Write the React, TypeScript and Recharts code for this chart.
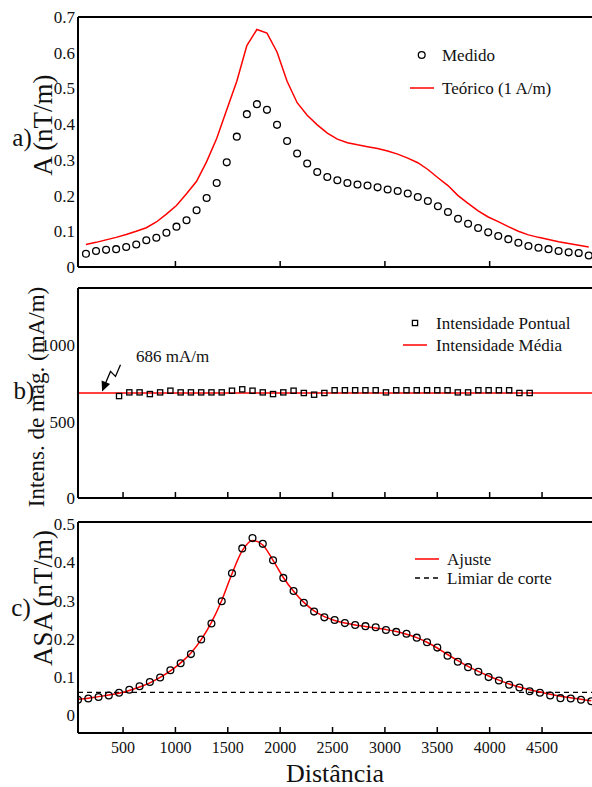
import React from 'react';
import {
  ComposedChart,
  Line,
  Scatter,
  XAxis,
  YAxis,
  ReferenceLine,
  ReferenceDot,
  Legend,
} from 'recharts';

const FONT = '"Liberation Serif", "Times New Roman", Times, serif';
const INK = '#111';
const RED = '#ff0000';

// ---------- shared x axis ----------
const xDomain = [70, 4977];
const xTicks = [500, 1000, 1500, 2000, 2500, 3000, 3500, 4000, 4500];
const xTicksA = [1000, 2000, 3000, 4000];

// ---------- panel a ----------
const distA = [146, 242, 338, 434, 530, 626, 722, 818, 914, 1010, 1106, 1202, 1298, 1394, 1490, 1586, 1682, 1778, 1874, 1970, 2066, 2162, 2258, 2354, 2450, 2546, 2642, 2738, 2834, 2930, 3026, 3122, 3218, 3314, 3410, 3506, 3602, 3698, 3794, 3890, 3986, 4082, 4178, 4274, 4370, 4466, 4562, 4658, 4754, 4850, 4946];
const medidoA = [0.037, 0.045, 0.048, 0.05, 0.056, 0.063, 0.075, 0.082, 0.096, 0.113, 0.131, 0.159, 0.193, 0.235, 0.293, 0.365, 0.428, 0.456, 0.44, 0.398, 0.353, 0.318, 0.29, 0.266, 0.252, 0.243, 0.235, 0.231, 0.228, 0.223, 0.217, 0.213, 0.206, 0.196, 0.185, 0.17, 0.154, 0.135, 0.121, 0.109, 0.097, 0.087, 0.078, 0.068, 0.059, 0.054, 0.05, 0.045, 0.041, 0.039, 0.032];
const teoricoA = [0.063, 0.069, 0.076, 0.083, 0.091, 0.1, 0.11, 0.126, 0.148, 0.172, 0.205, 0.24, 0.295, 0.36, 0.44, 0.52, 0.62, 0.665, 0.655, 0.602, 0.52, 0.46, 0.425, 0.398, 0.375, 0.358, 0.348, 0.342, 0.337, 0.332, 0.325, 0.316, 0.305, 0.292, 0.273, 0.25, 0.228, 0.2, 0.178, 0.157, 0.14, 0.127, 0.113, 0.1, 0.09, 0.083, 0.077, 0.071, 0.066, 0.061, 0.056];
const yTicksA = [0, 0.1, 0.2, 0.3, 0.4, 0.5, 0.6, 0.7];
const yTicksARight = [0.1, 0.2, 0.3, 0.4, 0.5, 0.6];

// ---------- panel b ----------
const distB = [462, 560, 658, 756, 854, 952, 1050, 1148, 1246, 1344, 1442, 1540, 1638, 1736, 1834, 1932, 2030, 2128, 2226, 2324, 2422, 2520, 2618, 2716, 2814, 2912, 3010, 3108, 3206, 3304, 3402, 3500, 3598, 3696, 3794, 3892, 3990, 4088, 4186, 4284, 4382];
const intensB = [666, 690, 690, 679, 690, 701, 690, 690, 690, 690, 690, 701, 710, 701, 690, 679, 690, 701, 686, 675, 686, 704, 704, 704, 704, 704, 690, 704, 704, 704, 704, 704, 704, 690, 690, 704, 704, 704, 704, 686, 686];
const intensMedia = 686;
const yTicksB = [0, 500, 1000];
const yTicksBRight = [500, 1000];

// ---------- panel c ----------
const distC = [70, 168, 266, 364, 462, 560, 658, 756, 854, 952, 1050, 1148, 1246, 1344, 1442, 1540, 1638, 1736, 1834, 1932, 2030, 2128, 2226, 2324, 2422, 2520, 2618, 2716, 2814, 2912, 3010, 3108, 3206, 3304, 3402, 3500, 3598, 3696, 3794, 3892, 3990, 4088, 4186, 4284, 4382, 4480, 4578, 4676, 4774, 4872, 4970];
const asaC = [0.041, 0.044, 0.048, 0.052, 0.059, 0.067, 0.076, 0.087, 0.099, 0.118, 0.136, 0.16, 0.198, 0.24, 0.298, 0.371, 0.436, 0.463, 0.448, 0.405, 0.359, 0.325, 0.294, 0.271, 0.256, 0.249, 0.241, 0.236, 0.233, 0.23, 0.223, 0.218, 0.213, 0.203, 0.191, 0.177, 0.156, 0.14, 0.126, 0.114, 0.1, 0.091, 0.08, 0.073, 0.063, 0.059, 0.052, 0.045, 0.044, 0.041, 0.037];
const ajusteC = [0.042, 0.045, 0.049, 0.053, 0.058, 0.065, 0.074, 0.085, 0.099, 0.116, 0.137, 0.163, 0.198, 0.243, 0.3, 0.37, 0.43, 0.457, 0.445, 0.405, 0.36, 0.324, 0.295, 0.273, 0.258, 0.248, 0.241, 0.236, 0.232, 0.228, 0.224, 0.219, 0.212, 0.203, 0.191, 0.176, 0.159, 0.143, 0.128, 0.115, 0.103, 0.092, 0.082, 0.074, 0.067, 0.061, 0.055, 0.05, 0.046, 0.042, 0.038];
const limiarCorte = 0.06;
const yTicksC = [0, 0.1, 0.2, 0.3, 0.4, 0.5];

const dataA = distA.map((d, i) => ({ d, med: medidoA[i], teo: teoricoA[i] }));
const dataB = distB.map((d, i) => ({ d, val: intensB[i] }));
const dataC = distC.map((d, i) => ({ d, asa: asaC[i], fit: ajusteC[i] }));

// ---------- shapes ----------
const CircleMark = (p: any) => (
  <circle cx={p.cx} cy={p.cy} r={3.4} fill="none" stroke="#000" strokeWidth={1.3} />
);
const SquareMark = (p: any) => (
  <rect x={p.cx - 2.6} y={p.cy - 2.6} width={5.2} height={5.2} fill="none" stroke="#000" strokeWidth={1.3} />
);

const makeBottomTick = (showLabel: boolean) => (p: any) => {
  const { x, y, payload } = p;
  return (
    <g>
      <line x1={x} y1={y} x2={x} y2={y - 6} stroke="#000" strokeWidth={1.5} />
      {showLabel && (
        <text x={x} y={y + 20} textAnchor="middle" fontSize={16} fontFamily={FONT} fill={INK}>
          {payload.value}
        </text>
      )}
    </g>
  );
};

const axisLineStyle = { stroke: '#000', strokeWidth: 2 };
const tickLineStyle = { stroke: '#000', strokeWidth: 1.5 };
const leftTickStyle = { fill: INK, fontSize: 17, fontFamily: FONT };

const makeTitle = (
  title: string,
  tag: string,
  tx: number,
  ty: number,
  gx: number,
  gy: number,
  size: number
) => () => (
  <g>
    <text
      x={tx}
      y={ty}
      transform={`rotate(-90, ${tx}, ${ty})`}
      textAnchor="middle"
      dominantBaseline="central"
      fontSize={size}
      fontFamily={FONT}
      fill={INK}
    >
      {title}
    </text>
    <text x={gx} y={gy} textAnchor="middle" dominantBaseline="central" fontSize={25} fontFamily={FONT} fill={INK}>
      {tag}
    </text>
  </g>
);

const ArrowNote = (p: any) => {
  const tx = p.cx;
  const ty = p.cy - 1.6;
  return (
    <g>
      <path
        d={`M ${tx + 18.4} ${ty - 26.7} L ${tx + 13.4} ${ty - 15} L ${tx + 8.4} ${ty - 20} L ${tx + 3.5} ${ty - 8.5}`}
        fill="none"
        stroke="#000"
        strokeWidth={1.3}
      />
      <path d={`M ${tx} ${ty} L ${tx - 0.5} ${ty - 11} L ${tx + 8} ${ty - 7.5} Z`} fill="#000" />
      <text x={tx + 34} y={ty - 35} dominantBaseline="central" fontSize={17} fontFamily={FONT} fill={INK}>
        686 mA/m
      </text>
    </g>
  );
};

const legendText = (x: number, y: number, s: string) => (
  <text x={x} y={y} dominantBaseline="central" fontSize={17} fontFamily={FONT} fill={INK}>
    {s}
  </text>
);

const LegendA = () => (
  <svg width={592} height={280} style={{ display: 'block' }}>
    <circle cx={421.7} cy={55} r={3.4} fill="none" stroke="#000" strokeWidth={1.3} />
    {legendText(442, 55, 'Medido')}
    <line x1={410} x2={434} y1={88} y2={88} stroke={RED} strokeWidth={1.5} />
    {legendText(442, 88, 'Teórico (1 A/m)')}
  </svg>
);

const LegendB = () => (
  <svg width={592} height={230} style={{ display: 'block' }}>
    <rect x={412.4} y={40.4} width={5.2} height={5.2} fill="none" stroke="#000" strokeWidth={1.3} />
    {legendText(436, 43, 'Intensidade Pontual')}
    <line x1={403} x2={427} y1={65} y2={65} stroke={RED} strokeWidth={1.5} />
    {legendText(436, 65, 'Intensidade Média')}
  </svg>
);

const LegendC = () => (
  <svg width={592} height={287} style={{ display: 'block' }}>
    <line x1={415} x2={439} y1={59} y2={59} stroke={RED} strokeWidth={1.5} />
    {legendText(447, 59, 'Ajuste')}
    <line x1={415} x2={439} y1={78} y2={78} stroke="#000" strokeWidth={1.3} strokeDasharray="5 4" />
    {legendText(447, 78, 'Limiar de corte')}
  </svg>
);

const topXAxis = (
  <XAxis
    xAxisId="top"
    orientation="top"
    type="number"
    domain={xDomain}
    allowDataOverflow
    ticks={xTicks}
    interval={0}
    mirror
    tick={false}
    tickSize={6}
    tickLine={tickLineStyle}
    axisLine={axisLineStyle}
  />
);

export default function App() {
  return (
    <div
      style={{
        position: 'absolute',
        left: 0,
        top: 0,
        width: 592,
        height: 787,
        background: '#fff',
        fontFamily: FONT,
      }}
    >
      {/* Panel a */}
      <div style={{ position: 'absolute', left: 0, top: 0 }}>
        <ComposedChart width={592} height={280} data={dataA} margin={{ top: 17, right: 0, bottom: 0, left: 0 }}>
          <XAxis
            dataKey="d"
            type="number"
            domain={xDomain}
            allowDataOverflow
            ticks={xTicksA}
            interval={0}
            height={13}
            tickSize={0}
            tickMargin={0}
            tickLine={false}
            axisLine={axisLineStyle}
            tick={makeBottomTick(false)}
          />
          {topXAxis}
          <YAxis
            type="number"
            domain={[0, 0.7]}
            allowDataOverflow
            ticks={yTicksA}
            interval={0}
            width={78}
            tickSize={0}
            tickMargin={3}
            tickLine={false}
            axisLine={axisLineStyle}
            tick={leftTickStyle}
            label={makeTitle('A (nT/m)', 'a)', 43, 125, 22, 137, 27)}
          />
          <YAxis
            yAxisId="right"
            orientation="right"
            mirror
            type="number"
            domain={[0, 0.7]}
            allowDataOverflow
            ticks={yTicksARight}
            interval={0}
            tick={false}
            tickSize={6}
            tickLine={tickLineStyle}
            axisLine={false}
          />
          <Line dataKey="teo" type="linear" stroke={RED} strokeWidth={1.5} dot={false} isAnimationActive={false} />
          <Scatter dataKey="med" shape={CircleMark} isAnimationActive={false} />
          <Legend
            layout="horizontal"
            verticalAlign="middle"
            align="center"
            wrapperStyle={{ left: 0, top: 0, width: 592, height: 280 }}
            content={LegendA}
          />
        </ComposedChart>
      </div>

      {/* Panel b */}
      <div style={{ position: 'absolute', left: 0, top: 280 }}>
        <ComposedChart width={592} height={230} data={dataB} margin={{ top: 8, right: 0, bottom: 0, left: 0 }}>
          <XAxis
            dataKey="d"
            type="number"
            domain={xDomain}
            allowDataOverflow
            ticks={xTicks}
            interval={0}
            height={12}
            tickSize={0}
            tickMargin={0}
            tickLine={false}
            axisLine={axisLineStyle}
            tick={makeBottomTick(false)}
          />
          {topXAxis}
          <YAxis
            type="number"
            domain={[0, 1372]}
            allowDataOverflow
            ticks={yTicksB}
            interval={0}
            width={78}
            tickSize={0}
            tickMargin={3}
            tickLine={false}
            axisLine={axisLineStyle}
            tick={leftTickStyle}
            label={makeTitle('Intens. de mag. (mA/m)', 'b)', 36, 117, 24, 110, 23)}
          />
          <YAxis
            yAxisId="right"
            orientation="right"
            mirror
            type="number"
            domain={[0, 1372]}
            allowDataOverflow
            ticks={yTicksBRight}
            interval={0}
            tick={false}
            tickSize={6}
            tickLine={tickLineStyle}
            axisLine={false}
          />
          <ReferenceLine y={intensMedia} stroke={RED} strokeWidth={1.5} />
          <Scatter dataKey="val" shape={SquareMark} isAnimationActive={false} />
          <ReferenceDot x={300} y={intensMedia} r={0} shape={ArrowNote} />
          <Legend
            layout="horizontal"
            verticalAlign="middle"
            align="center"
            wrapperStyle={{ left: 0, top: 0, width: 592, height: 230 }}
            content={LegendB}
          />
        </ComposedChart>
      </div>

      {/* Panel c */}
      <div style={{ position: 'absolute', left: 0, top: 500 }}>
        <ComposedChart width={592} height={287} data={dataC} margin={{ top: 22, right: 0, bottom: 0, left: 0 }}>
          <XAxis
            dataKey="d"
            type="number"
            domain={xDomain}
            allowDataOverflow
            ticks={xTicks}
            interval={0}
            height={54}
            tickSize={0}
            tickMargin={0}
            tickLine={false}
            axisLine={axisLineStyle}
            tick={makeBottomTick(true)}
            label={{ value: 'Distância', position: 'insideBottom', offset: 5, fontSize: 26, fill: INK, fontFamily: FONT }}
          />
          {topXAxis}
          <YAxis
            type="number"
            domain={[-0.046, 0.505]}
            allowDataOverflow
            ticks={yTicksC}
            interval={0}
            width={78}
            tickSize={0}
            tickMargin={3}
            tickLine={false}
            axisLine={axisLineStyle}
            tick={leftTickStyle}
            label={makeTitle('ASA (nT/m)', 'c)', 43, 98, 21, 107, 27)}
          />
          <YAxis
            yAxisId="right"
            orientation="right"
            mirror
            type="number"
            domain={[-0.046, 0.505]}
            allowDataOverflow
            ticks={yTicksC}
            interval={0}
            tick={false}
            tickSize={6}
            tickLine={tickLineStyle}
            axisLine={false}
          />
          <ReferenceLine y={limiarCorte} stroke="#000" strokeWidth={1.3} strokeDasharray="5 4" />
          <Line dataKey="fit" type="monotone" stroke={RED} strokeWidth={1.5} dot={false} isAnimationActive={false} />
          <Scatter dataKey="asa" shape={CircleMark} isAnimationActive={false} />
          <Legend
            layout="horizontal"
            verticalAlign="middle"
            align="center"
            wrapperStyle={{ left: 0, top: 0, width: 592, height: 287 }}
            content={LegendC}
          />
        </ComposedChart>
      </div>
    </div>
  );
}
